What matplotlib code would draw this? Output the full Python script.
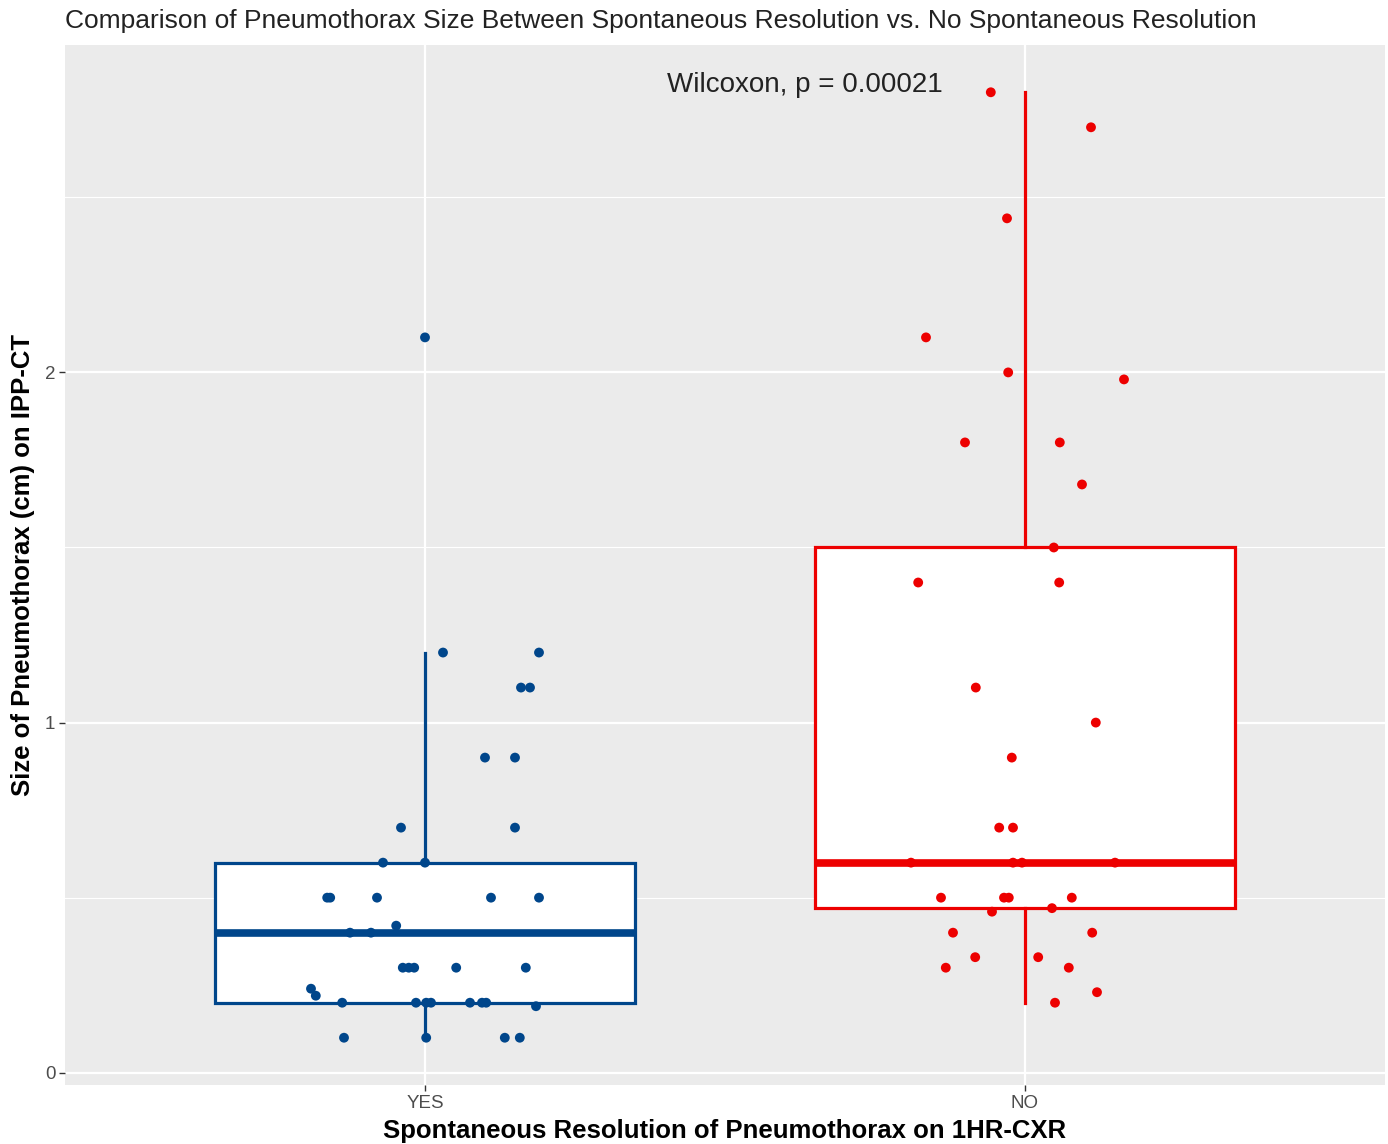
import matplotlib
matplotlib.use('Agg')
import matplotlib.pyplot as plt
import numpy as np

plt.rcParams['font.family'] = ['Liberation Sans', 'DejaVu Sans']

# ---- data ----
groups = ['YES', 'NO']
group_colors = ['#00468B', '#ED0000']

yes_y = [2.1, 1.2, 1.2, 1.1, 1.1, 0.9, 0.9, 0.7, 0.7, 0.6, 0.6,
         0.5, 0.5, 0.5, 0.5, 0.5, 0.4, 0.4, 0.42,
         0.3, 0.3, 0.3, 0.3, 0.3, 0.24, 0.22,
         0.2, 0.2, 0.2, 0.2, 0.2, 0.2, 0.2, 0.19,
         0.1, 0.1, 0.1, 0.1]
yes_jitter = [0.0, 0.03, 0.19, 0.16, 0.175, 0.10, 0.15, -0.04, 0.15, -0.07, 0.0,
              -0.163, -0.158, -0.08, 0.11, 0.19, -0.125, -0.09, -0.048,
              -0.037, -0.027, -0.018, 0.052, 0.168, -0.19, -0.182,
              -0.138, -0.015, 0.002, 0.01, 0.075, 0.095, 0.102, 0.185,
              -0.135, 0.002, 0.133, 0.158]

no_y = [2.8, 2.7, 2.44, 2.1, 2.0, 1.98, 1.8, 1.8, 1.68, 1.5, 1.4, 1.4,
        1.1, 1.0, 0.9, 0.7, 0.7, 0.6, 0.6, 0.6, 0.6,
        0.5, 0.5, 0.5, 0.5, 0.46, 0.47, 0.4, 0.4,
        0.33, 0.33, 0.3, 0.3, 0.23, 0.2]
no_jitter = [-0.057, 0.11, -0.03, -0.165, -0.028, 0.165, -0.1, 0.058, 0.095, 0.048, -0.178, 0.057,
             -0.082, 0.118, -0.022, -0.043, -0.02, -0.19, -0.02, -0.005, 0.15,
             -0.14, -0.035, -0.027, 0.078, -0.055, 0.045, -0.12, 0.112,
             -0.083, 0.022, -0.132, 0.073, 0.12, 0.05]

# box statistics: lower whisker, Q1, median, Q3, upper whisker
yes_box = [0.1, 0.2, 0.4, 0.6, 1.2]
no_box = [0.2, 0.47, 0.6, 1.5, 2.8]

title = 'Comparison of Pneumothorax Size Between Spontaneous Resolution vs. No Spontaneous Resolution'
xlabel = 'Spontaneous Resolution of Pneumothorax on 1HR-CXR'
ylabel = 'Size of Pneumothorax (cm) on IPP-CT'
test_label = 'Wilcoxon, p = 0.00021'
y_ticks = [0, 1, 2]

# ---- figure ----
W, H = 1388, 1144
fig = plt.figure(figsize=(W / 100, H / 100), dpi=100)
ax = fig.add_axes([65 / W, 59 / H, 1320 / W, 1040 / H])
ax.set_facecolor('#EBEBEB')
for s in ax.spines.values():
    s.set_visible(False)

positions = np.arange(1, len(groups) + 1)
stats = []
for b in (yes_box, no_box):
    stats.append(dict(whislo=b[0], q1=b[1], med=b[2], q3=b[3], whishi=b[4], fliers=[]))

bp = ax.bxp(stats, positions=positions, widths=0.7, patch_artist=True,
            showfliers=False, showcaps=False, zorder=3)
for i, c in enumerate(group_colors):
    bp['boxes'][i].set(facecolor='white', edgecolor=c, linewidth=2.3)
    bp['medians'][i].set(color=c, linewidth=5.5, solid_capstyle='butt')
    for w in bp['whiskers'][2 * i:2 * i + 2]:
        w.set(color=c, linewidth=2.3)

for pos, ys, jit, c in zip(positions, (yes_y, no_y), (yes_jitter, no_jitter), group_colors):
    ax.scatter(pos + np.array(jit), ys, s=50, color=c, edgecolors='none', zorder=4)

ax.set_xlim(0.4, 2.6)
ax.set_ylim(-0.035, 2.935)
ax.set_xticks(positions)
ax.set_xticklabels(groups)
ax.set_yticks(y_ticks)
ax.set_yticks([0.5, 1.5, 2.5], minor=True)
ax.grid(True, which='major', color='white', linewidth=1.6, zorder=0)
ax.grid(True, which='minor', axis='y', color='white', linewidth=0.8, zorder=0)
ax.set_axisbelow(True)
ax.tick_params(axis='both', which='major', length=4, width=1, color='#333333',
               labelcolor='#4D4D4D', labelsize=13.5, pad=3)
ax.tick_params(axis='y', which='minor', length=0)

ax.set_xlabel(xlabel, fontsize=18.5, fontweight='bold', color='black')
ax.set_ylabel(ylabel, fontsize=18.5, fontweight='bold', color='black')
ax.xaxis.set_label_coords(0.5, -(1131 - 1085) / 1040)
ax.xaxis.label.set_va('center')
ax.yaxis.set_label_coords(-(65 - 23) / 1320, 0.5)
ax.yaxis.label.set_va('center')

ax.text(1.403, 2.82, test_label, fontsize=20, color='#222222', ha='left', va='center')
fig.text(65 / W, 1 - 21 / H, title, fontsize=19, color='#222222',
         ha='left', va='center')

fig.savefig('out.png', dpi=100)
